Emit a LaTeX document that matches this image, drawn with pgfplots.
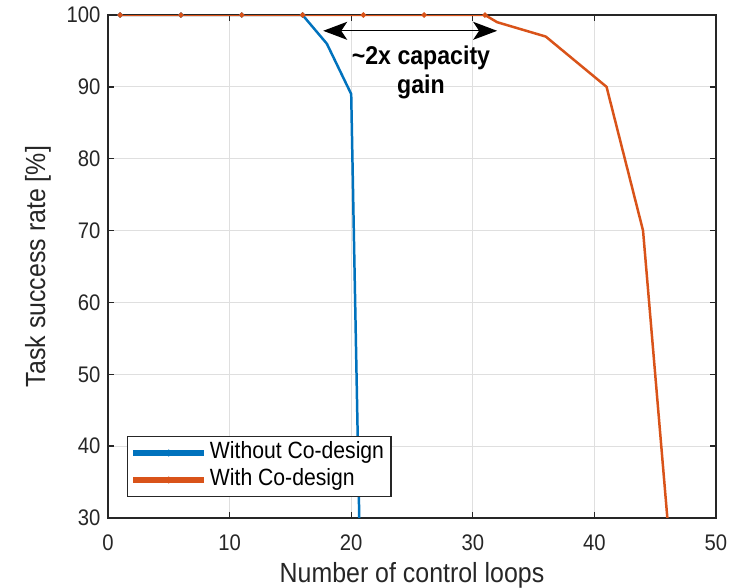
\documentclass[border=0pt]{standalone}
\usepackage{fontspec}
\setmainfont{Liberation Sans}[FakeStretch=0.9]
\usepackage{pgfplots}
\pgfplotsset{compat=1.18}
\usetikzlibrary{arrows.meta}
\definecolor{mblue}{HTML}{0072BD}
\definecolor{morange}{HTML}{D95319}
\definecolor{maxis}{HTML}{262626}
\begin{document}
\begin{tikzpicture}
\path[use as bounding box] (-108bp,-70bp) rectangle (626bp,518bp);
\begin{axis}[
  scale only axis, width=608bp, height=503bp,
  xmin=0, xmax=50, ymin=30, ymax=100,
  xtick={0,10,...,50}, ytick={30,40,...,100},
  grid=major, grid style={gray!25, line width=1pt},
  axis line style={maxis, line width=1.3pt},
  tick style={maxis, line width=1.3pt},
  major tick length=6bp,
  tick align=inside,
  ticklabel style={font=\fontsize{22.6}{25}\selectfont, text=maxis},
  xticklabel style={yshift=-13bp},
  yticklabel style={xshift=-4bp},
  /pgf/number format/assume math mode=true,
  xlabel={Number of control loops}, ylabel={Task success rate [\%]},
  label style={font=\fontsize{27.8}{30}\selectfont, text=maxis},
  xlabel style={at={(axis description cs:0.5,-0.113)}, anchor=center},
  ylabel style={at={(axis description cs:-0.115,0.5)}, anchor=center},
  legend style={at={(axis cs:1.55,32.9)}, anchor=south west, draw=maxis, line width=1.3pt,
    font=\fontsize{23.6}{26}\selectfont, inner xsep=6bp, inner ysep=4bp, row sep=2bp,
    nodes={inner sep=1pt, text height=17bp, text depth=6bp},
    /tikz/every odd column/.append style={column sep=5bp}},
  legend cell align=left,
  legend image code/.code={
    \fill[#1] (0bp,-1.5bp) rectangle (68bp,1.5bp);
    \fill[#1] (34bp,0bp) circle (1.8bp);},
  clip=true,
]
\addplot[mblue, line width=2.5pt, mark=*, mark size=1.2pt, mark indices={1,6,11,16}] coordinates {
(1,100) (2,100) (3,100) (4,100) (5,100) (6,100) (7,100) (8,100) (9,100) (10,100)
(11,100) (12,100) (13,100) (14,100) (15,100) (16,100) (18,96) (20,89) (21,0)};
\addlegendentry{Without Co-design}
\addplot[morange, line width=2.5pt, mark=*, mark size=1.2pt, mark indices={1,6,11,16,21,26,31}] coordinates {
(1,100) (2,100) (3,100) (4,100) (5,100) (6,100) (7,100) (8,100) (9,100) (10,100)
(11,100) (12,100) (13,100) (14,100) (15,100) (16,100) (17,100) (18,100) (19,100) (20,100)
(21,100) (22,100) (23,100) (24,100) (25,100) (26,100) (27,100) (28,100) (29,100) (30,100)
(31,100) (32,99) (34,98) (36,97) (41,90) (44,70) (46,30) (47,0)};
\addlegendentry{With Co-design}
\draw[{Stealth[length=24bp,width=18bp,inset=6bp]}-{Stealth[length=24bp,width=18bp,inset=6bp]}, line width=1.3pt, black]
  (axis cs:17.7,97.8) -- (axis cs:32,97.8);
\node[font=\bfseries\fontsize{25.8}{29}\selectfont, align=center, text=black]
  at (axis cs:25.74,92.07) {\textasciitilde2x capacity\\gain};
\end{axis}
\end{tikzpicture}
\end{document}
